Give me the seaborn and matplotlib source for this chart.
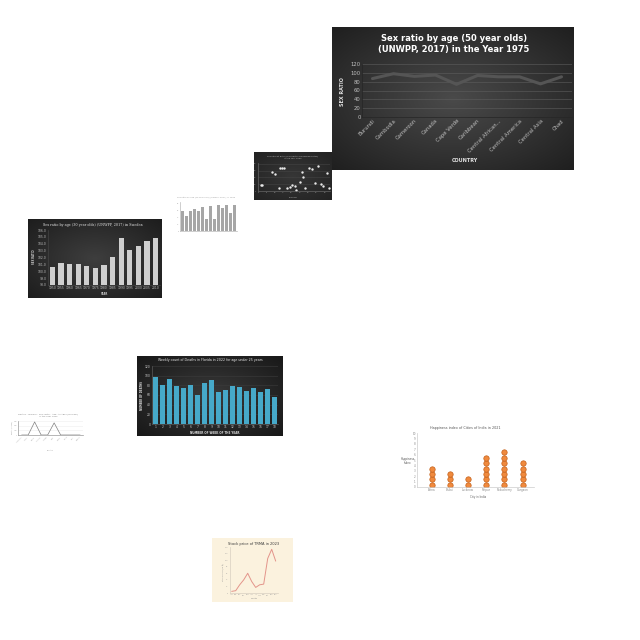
import numpy as np
import pandas as pd
import matplotlib
matplotlib.use("Agg")
import matplotlib.pyplot as plt
from matplotlib.colors import to_rgb
import seaborn as sns

sns.set_theme(style="white")
plt.rcParams["font.family"] = ["DejaVu Sans"]

# ── Data ─────────────────────────────────────────────────────────────────────
ratio_countries = ["Burundi", "Cambodia", "Cameroon", "Canada", "Cape Verde", "Caribbean",
                   "Central African...", "Central America", "Central Asia", "Chad"]
ratio_1975 = [87, 98, 92, 95, 74, 94, 91, 91, 75, 91]

scatter_x = [1.6, 2.4, 8.6, 10, 13, 14.4, 15.4, 12.6, 17.6, 19, 20.6, 21.8, 22.6,
             25, 26.4, 27, 28, 30.6, 32.2, 33.8, 36, 37.4, 38.6, 41, 42.2]
scatter_y = [18, 18, 56, 50, 67, 66, 67, 9, 9, 12, 18, 14, 4,
             25, 56, 40, 10, 66, 65, 22, 72, 20, 16, 52, 9]

small_years = [str(y) for y in range(1990, 2004)]
small_vals = [60, 44, 60, 64, 58, 70, 34, 74, 34, 76, 67, 77, 52, 76]

sweden_years = [str(y) for y in range(1950, 2015, 5)]
sweden_ratio = [100.6, 101.2, 101.0, 101.0, 100.7, 100.5, 100.9, 102.1, 104.9, 103.1, 103.7, 104.4, 104.9]

florida_weeks = [str(w) for w in range(1, 19)]
florida_deaths = [98, 81, 94, 79, 74, 80, 61, 85, 91, 66, 70, 78, 76, 69, 75, 67, 73, 56]

malaria_countries = ["Afghanistan", "Albania", "Angola", "Argentina", "Armenia",
                     "Benin", "Bhutan", "Bolivia", "Brazil", "Bulgaria"]
malaria_deaths = [0, 0, 2800, 0, 0, 2600, 0, 0, 0, 0]

cities = ["Patna", "Bhilai", "Lucknow", "Raipur", "Puducherry", "Gurgaon"]
happiness = [4, 3, 2, 6, 7, 5]

months = ["Jan", "Feb", "Mar", "Apr", "May", "Jun", "Jul", "Aug", "Sep", "Oct", "Nov", "Dec"]
stock_price = [5, 7, 25, 40, 60, 35, 17, 25, 27, 105, 133, 97]

# ── Helpers ──────────────────────────────────────────────────────────────────
fig = plt.figure(figsize=(6.4, 6.4), dpi=100)
fig.patch.set_facecolor("white")


def rect(x0, y0, x1, y1):
    return [x0 / 640, 1 - y1 / 640, (x1 - x0) / 640, (y1 - y0) / 640]


def panel(x0, y0, x1, y1, inner, outer=None):
    ax = fig.add_axes(rect(x0, y0, x1, y1))
    ax.set_xticks([]); ax.set_yticks([])
    for s in ax.spines.values():
        s.set_visible(False)
    if outer is None:
        ax.set_facecolor(inner)
        return ax
    yy, xx = np.mgrid[-1:1:120j, -1:1:200j]
    r = np.clip(np.sqrt(xx ** 2 + yy ** 2) / 1.45, 0, 1)[..., None]
    img = np.array(to_rgb(inner)) * (1 - r) + np.array(to_rgb(outer)) * r
    ax.imshow(img, aspect="auto", extent=[0, 1, 0, 1])
    return ax


def style(ax, tick_color, size, grid=None, spine="#262626"):
    ax.set_facecolor("none")
    ax.tick_params(colors=tick_color, labelsize=size, length=0, pad=1)
    for k, s in ax.spines.items():
        s.set_visible(k in ("left", "bottom"))
        s.set_color(spine)
        s.set_linewidth(0.5)
    if grid:
        ax.yaxis.grid(True, color=grid, linewidth=0.4)
        ax.set_axisbelow(True)
    ax.set_xlabel("")
    ax.set_ylabel("")


# ── 1. Sex ratio line chart (big, dark) ──────────────────────────────────────
panel(332, 27, 574, 170, "#4a4a4a", "#1e1e1e")
ax = fig.add_axes(rect(362, 64, 572, 117))
sns.lineplot(x=ratio_countries, y=ratio_1975, sort=False, ax=ax, color="#555555", linewidth=2.2)
ax.set_ylim(0, 120)
ax.set_yticks(range(0, 121, 20))
ax.set_xlim(-0.5, 9.5)
style(ax, "#bfbfbf", 3.8, grid="#5e5e5e")
plt.setp(ax.get_xticklabels(), rotation=45, ha="right", rotation_mode="anchor")
fig.text(454 / 640, 1 - 44 / 640, "Sex ratio by age (50 year olds)\n(UNWPP, 2017) in the Year 1975",
         ha="center", va="center", color="white", fontsize=6, fontweight="bold", linespacing=1.3)
fig.text(342 / 640, 1 - 92 / 640, "SEX RATIO", rotation=90, ha="center", va="center",
         color="#e0e0e0", fontsize=3.5, fontweight="bold")
fig.text(465 / 640, 1 - 160 / 640, "COUNTRY", ha="center", va="center",
         color="#e0e0e0", fontsize=3.5, fontweight="bold")

# ── 2. Small dark scatter ────────────────────────────────────────────────────
panel(254, 152, 332, 200, "#363636", "#222222")
ax = fig.add_axes(rect(258, 163, 330, 191))
sns.scatterplot(x=scatter_x, y=scatter_y, ax=ax, color="#e8e8e8", s=3, linewidth=0)
ax.set_xlim(0, 43)
ax.set_ylim(0, 82)
style(ax, "#9a9a9a", 1.4, grid="#444444", spine="#666666")
fig.text(293 / 640, 1 - 157 / 640, "Sex ratio at birth (male births per female births)\nin the year 1950",
         ha="center", va="center", color="#bbbbbb", fontsize=1.5)
fig.text(293 / 640, 1 - 197 / 640, "COUNTRY", ha="center", va="center", color="#aaaaaa", fontsize=1.4)

# ── 3. Small white bar chart ─────────────────────────────────────────────────
ax = fig.add_axes(rect(180.3, 202, 236.7, 231))
sns.barplot(x=small_years, y=small_vals, ax=ax, color="#a6a6a6", width=0.7, saturation=1, linewidth=0)
ax.set_ylim(0, 85)
style(ax, "#999999", 1.3, spine="#bbbbbb")
ax.set_xticklabels([])
fig.text(206 / 640, 1 - 197 / 640, "Sex ratio by age (20 year olds) (UNWPP, 2017) in 1990",
         ha="center", va="center", color="#999999", fontsize=1.5)

# ── 4. Sweden bar chart (dark) ───────────────────────────────────────────────
panel(28, 219, 162, 298, "#3e3e3e", "#1c1c1c")
ax = fig.add_axes(rect(48, 230, 160, 285))
sns.barplot(x=sweden_years, y=sweden_ratio, ax=ax, color="#cfcfcf", width=0.6, saturation=1, linewidth=0)
ax.set_ylim(98, 106)
ax.set_yticks(np.arange(98, 106.1, 1))
ax.set_yticklabels([f"{v:.1f}" for v in np.arange(98, 106.1, 1)])
style(ax, "#bdbdbd", 2.2, spine="#444444")
fig.text(93 / 640, 1 - 225 / 640, "Sex ratio by age (30 year olds) (UNWPP, 2017) in Sweden",
         ha="center", va="center", color="#e6e6e6", fontsize=2.4, family="DejaVu Serif")
fig.text(34 / 640, 1 - 257 / 640, "SEX RATIO", rotation=90, ha="center", va="center",
         color="#cccccc", fontsize=1.8, fontweight="bold")
fig.text(104 / 640, 1 - 294 / 640, "YEAR", ha="center", va="center",
         color="#cccccc", fontsize=1.8, fontweight="bold")

# ── 5. Florida weekly deaths (dark, teal) ────────────────────────────────────
panel(137, 356, 283, 436, "#3a3a3a", "#171717")
ax = fig.add_axes(rect(152, 366, 278, 424))
sns.barplot(x=florida_weeks, y=florida_deaths, ax=ax, color="#46a9c9", width=0.6, saturation=1, linewidth=0)
ax.set_ylim(0, 120)
ax.set_yticks(range(0, 121, 20))
style(ax, "#c8c8c8", 2.2, grid="#3c3c3c", spine="#5a5a5a")
fig.text(210 / 640, 1 - 360 / 640, "Weekly count of Deaths in Florida in 2022 for age under 25 years",
         ha="center", va="center", color="#e6e6e6", fontsize=2.3)
fig.text(142 / 640, 1 - 395 / 640, "NUMBER OF DEATHS", rotation=90, ha="center", va="center",
         color="#dddddd", fontsize=1.8, fontweight="bold")
fig.text(215 / 640, 1 - 433 / 640, "NUMBER OF WEEK OF THE YEAR", ha="center", va="center",
         color="#dddddd", fontsize=2.0, fontweight="bold")

# ── 6. Malaria triangle line chart (white) ───────────────────────────────────
ax = fig.add_axes(rect(18.4, 421, 83.4, 435))
sns.lineplot(x=malaria_countries, y=malaria_deaths, sort=False, ax=ax, color="#808080", linewidth=0.5)
ax.set_xlim(-0.5, 9.5)
ax.set_ylim(0, 3000)
ax.set_yticks([0, 1000, 2000, 3000])
style(ax, "#aaaaaa", 1.0, grid="#eeeeee", spine="#999999")
plt.setp(ax.get_xticklabels(), rotation=45, ha="right", rotation_mode="anchor")
fig.text(48 / 640, 1 - 415 / 640, "Deaths - Malaria - Sex: Both - Age: All Ages (Number)\nin the year 1990",
         ha="center", va="center", color="#888888", fontsize=1.6)
fig.text(12 / 640, 1 - 428 / 640, "Deaths (Number)", rotation=90, ha="center", va="center",
         color="#999999", fontsize=1.1)
fig.text(50 / 640, 1 - 450 / 640, "Country", ha="center", va="center", color="#999999", fontsize=1.3)

# ── 7. Happiness index dot plot ──────────────────────────────────────────────
dots = pd.DataFrame([(c, k + 0.4) for c, n in zip(cities, happiness) for k in range(n)],
                    columns=["city", "level"])
ax = fig.add_axes(rect(417, 433, 533.6, 487))
sns.scatterplot(data=dots, x="city", y="level", ax=ax, s=15, color="#f08a3e",
                edgecolor="#c45f18", linewidth=0.5)
ax.set_xlim(-0.8, 5.6)
ax.set_ylim(0, 10)
ax.set_yticks(range(0, 11))
style(ax, "#888888", 2.0, spine="#cccccc")
fig.text(465 / 640, 1 - 428 / 640, "Happiness index of Cities of India in 2021",
         ha="center", va="center", color="#555555", fontsize=2.4)
fig.text(408 / 640, 1 - 461 / 640, "Happiness\nIndex", ha="center", va="center",
         color="#555555", fontsize=2.0)
fig.text(478 / 640, 1 - 497 / 640, "City in India", ha="center", va="center",
         color="#666666", fontsize=2.0)

# ── 8. Stock price (cream) ───────────────────────────────────────────────────
panel(212, 538, 293, 602, "#fbf2de")
ax = fig.add_axes(rect(229.7, 547, 277.7, 593))
sns.lineplot(x=months, y=stock_price, sort=False, ax=ax, color="#e3948a", linewidth=0.7)
ax.set_xlim(-0.5, 11.5)
ax.set_ylim(0, 140)
style(ax, "#9a9a9a", 1.3, spine="#d8cfc0")
fig.text(254 / 640, 1 - 544 / 640, "Stock price of TRMA in 2023",
         ha="center", va="center", color="#3a3a3a", fontsize=2.6)
fig.text(224 / 640, 1 - 572 / 640, "Stock Price (in $)", rotation=90, ha="center", va="center",
         color="#888888", fontsize=1.5)
fig.text(254 / 640, 1 - 598 / 640, "Month", ha="center", va="center", color="#888888", fontsize=1.6)

fig.savefig("out.png", dpi=100, facecolor="white")
